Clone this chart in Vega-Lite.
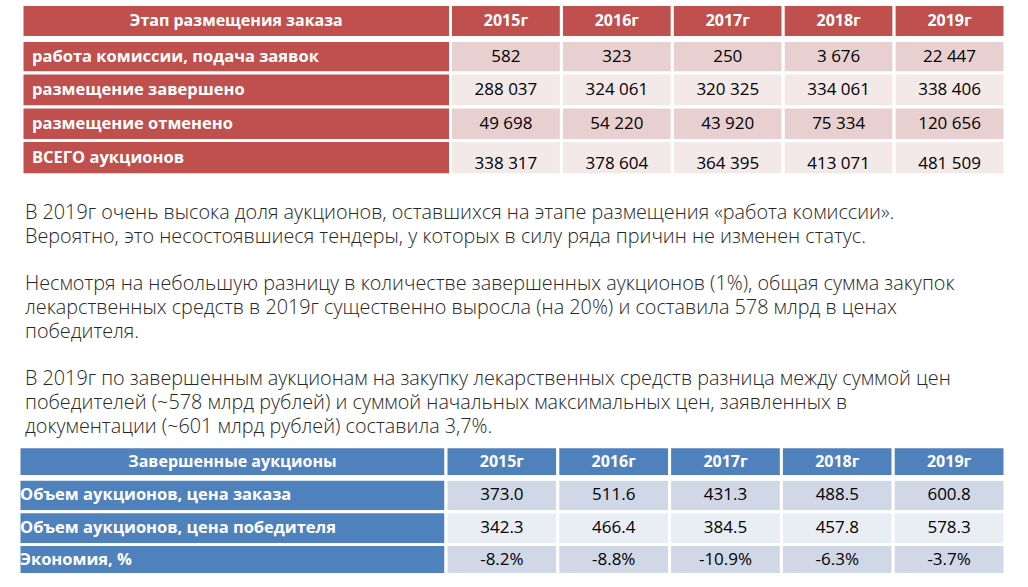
{
  "$schema": "https://vega.github.io/schema/vega-lite/v6.json",
  "width": 1028,
  "height": 587,
  "padding": 0,
  "autosize": "none",
  "background": "white",
  "config": {"view": {"stroke": null}},
  "datasets": {
    "tA": [
      {"r": 0, "c": 0, "txt": "Этап размещения заказа"},
      {"r": 0, "c": 1, "txt": "2015г"},
      {"r": 0, "c": 2, "txt": "2016г"},
      {"r": 0, "c": 3, "txt": "2017г"},
      {"r": 0, "c": 4, "txt": "2018г"},
      {"r": 0, "c": 5, "txt": "2019г"},
      {"r": 1, "c": 0, "txt": "работа комиссии, подача заявок"},
      {"r": 1, "c": 1, "txt": "582"},
      {"r": 1, "c": 2, "txt": "323"},
      {"r": 1, "c": 3, "txt": "250"},
      {"r": 1, "c": 4, "txt": "3 676"},
      {"r": 1, "c": 5, "txt": "22 447"},
      {"r": 2, "c": 0, "txt": "размещение завершено"},
      {"r": 2, "c": 1, "txt": "288 037"},
      {"r": 2, "c": 2, "txt": "324 061"},
      {"r": 2, "c": 3, "txt": "320 325"},
      {"r": 2, "c": 4, "txt": "334 061"},
      {"r": 2, "c": 5, "txt": "338 406"},
      {"r": 3, "c": 0, "txt": "размещение отменено"},
      {"r": 3, "c": 1, "txt": "49 698"},
      {"r": 3, "c": 2, "txt": "54 220"},
      {"r": 3, "c": 3, "txt": "43 920"},
      {"r": 3, "c": 4, "txt": "75 334"},
      {"r": 3, "c": 5, "txt": "120 656"},
      {"r": 4, "c": 0, "txt": "ВСЕГО аукционов"},
      {"r": 4, "c": 1, "txt": "338 317"},
      {"r": 4, "c": 2, "txt": "378 604"},
      {"r": 4, "c": 3, "txt": "364 395"},
      {"r": 4, "c": 4, "txt": "413 071"},
      {"r": 4, "c": 5, "txt": "481 509"}
    ],
    "tB": [
      {"r": 20, "c": 0, "txt": "Завершенные аукционы"},
      {"r": 20, "c": 1, "txt": "2015г"},
      {"r": 20, "c": 2, "txt": "2016г"},
      {"r": 20, "c": 3, "txt": "2017г"},
      {"r": 20, "c": 4, "txt": "2018г"},
      {"r": 20, "c": 5, "txt": "2019г"},
      {"r": 21, "c": 0, "txt": "Объем аукционов, цена заказа"},
      {"r": 21, "c": 1, "txt": "373.0"},
      {"r": 21, "c": 2, "txt": "511.6"},
      {"r": 21, "c": 3, "txt": "431.3"},
      {"r": 21, "c": 4, "txt": "488.5"},
      {"r": 21, "c": 5, "txt": "600.8"},
      {"r": 22, "c": 0, "txt": "Объем аукционов, цена победителя"},
      {"r": 22, "c": 1, "txt": "342.3"},
      {"r": 22, "c": 2, "txt": "466.4"},
      {"r": 22, "c": 3, "txt": "384.5"},
      {"r": 22, "c": 4, "txt": "457.8"},
      {"r": 22, "c": 5, "txt": "578.3"},
      {"r": 23, "c": 0, "txt": "Экономия, %"},
      {"r": 23, "c": 1, "txt": "-8.2%"},
      {"r": 23, "c": 2, "txt": "-8.8%"},
      {"r": 23, "c": 3, "txt": "-10.9%"},
      {"r": 23, "c": 4, "txt": "-6.3%"},
      {"r": 23, "c": 5, "txt": "-3.7%"}
    ],
    "para": [
      {"r": 10, "c": 0, "txt": "В 2019г очень высока доля аукционов, оставшихся на этапе размещения «работа комиссии»."},
      {"r": 11, "c": 0, "txt": "Вероятно, это несостоявшиеся тендеры, у которых в силу ряда причин не изменен статус."},
      {"r": 13, "c": 0, "txt": "Несмотря на небольшую разницу в количестве завершенных аукционов (1%), общая сумма закупок"},
      {"r": 14, "c": 0, "txt": "лекарственных средств в 2019г существенно выросла (на 20%) и составила 578 млрд в ценах"},
      {"r": 15, "c": 0, "txt": "победителя."},
      {"r": 17, "c": 0, "txt": "В 2019г по завершенным аукционам на закупку лекарственных средств разница между суммой цен"},
      {"r": 18, "c": 0, "txt": "победителей (~578 млрд рублей) и суммой начальных максимальных цен, заявленных в"},
      {"r": 19, "c": 0, "txt": "документации (~601 млрд рублей) составила 3,7%."}
    ]
  },
  "layer": [
    {
      "data": {"name": "tA"},
      "transform": [
        {"calculate": "datum.c + 1", "as": "c2"},
        {"calculate": "datum.r + (datum.r == 0 ? 0.9 : 1)", "as": "r2"},
        {"calculate": "datum.c + 0.5", "as": "cm"},
        {"calculate": "datum.r == 0 ? 0.45 : datum.r + 0.5", "as": "rm"}
      ],
      "encoding": {
        "x": {"field": "c", "type": "quantitative", "axis": null,
              "scale": {"domain": [0, 1, 6], "range": [22, 450.5, 1005], "nice": false, "zero": false}}
      },
      "layer": [
        {
          "mark": {"type": "rect", "stroke": "white", "strokeWidth": 3},
          "encoding": {
            "x2": {"field": "c2"},
            "y": {"field": "r", "type": "quantitative", "axis": null,
                  "scale": {"domain": [0, 0.9, 1, 2, 3, 4, 5, 10, 19, 20, 20.9, 21, 22, 23, 24],
                            "range": [4.5, 37.5, 40.5, 73, 107, 140.5, 174.8, 213, 427, 446.8, 476.5, 479.2, 511.7, 544.5, 574.5],
                            "nice": false, "zero": false}},
            "y2": {"field": "r2"},
            "color": {
              "condition": [
                {"test": "datum.c == 0 || datum.r == 0", "value": "#C0504D"},
                {"test": "datum.r % 2 == 1", "value": "#E8D0D0"}
              ],
              "value": "#F3E9E9"
            }
          }
        },
        {
          "transform": [{"filter": "datum.r == 0"}],
          "mark": {"type": "text", "align": "center", "baseline": "middle", "font": "Open Sans", "fontWeight": "bold", "fontSize": 16, "color": "white"},
          "encoding": {
            "x": {"field": "cm", "type": "quantitative"},
            "y": {"field": "rm", "type": "quantitative"},
            "text": {"field": "txt"}
          }
        },
        {
          "transform": [{"filter": "datum.r > 0 && datum.c == 0"}],
          "mark": {"type": "text", "align": "left", "baseline": "middle", "dx": 10, "font": "Open Sans", "fontWeight": "bold", "fontSize": 16.5, "color": "white"},
          "encoding": {
            "x": {"field": "c", "type": "quantitative"},
            "y": {"field": "rm", "type": "quantitative"},
            "text": {"field": "txt"}
          }
        },
        {
          "transform": [{"filter": "datum.r > 0 && datum.r < 4 && datum.c > 0"}],
          "mark": {"type": "text", "align": "center", "baseline": "middle", "font": "Open Sans", "fontSize": 17, "color": "black"},
          "encoding": {
            "x": {"field": "cm", "type": "quantitative"},
            "y": {"field": "rm", "type": "quantitative"},
            "text": {"field": "txt"}
          }
        },
        {
          "transform": [{"filter": "datum.r == 4 && datum.c > 0"}],
          "mark": {"type": "text", "align": "center", "baseline": "middle", "dy": 6, "font": "Open Sans", "fontSize": 17, "color": "black"},
          "encoding": {
            "x": {"field": "cm", "type": "quantitative"},
            "y": {"field": "rm", "type": "quantitative"},
            "text": {"field": "txt"}
          }
        }
      ]
    },
    {
      "data": {"name": "para"},
      "mark": {"type": "text", "align": "left", "baseline": "middle", "dx": 3, "font": "Open Sans", "fontWeight": 300, "fontSize": 19.8, "color": "#262626"},
      "encoding": {
        "x": {"field": "c", "type": "quantitative", "axis": null,
              "scale": {"domain": [0, 1, 6], "range": [22, 450.5, 1005], "nice": false, "zero": false}},
        "y": {"field": "r", "type": "quantitative"},
        "text": {"field": "txt"}
      }
    },
    {
      "data": {"name": "tB"},
      "transform": [
        {"calculate": "datum.c + 1", "as": "c2"},
        {"calculate": "datum.r + (datum.r == 20 ? 0.9 : 1)", "as": "r2"},
        {"calculate": "datum.c + 0.5", "as": "cm"},
        {"calculate": "datum.r == 20 ? 20.45 : datum.r + 0.5", "as": "rm"}
      ],
      "encoding": {
        "x": {"field": "c", "type": "quantitative", "axis": null,
              "scale": {"domain": [0, 1, 6], "range": [19, 446, 1005], "nice": false, "zero": false}}
      },
      "layer": [
        {
          "mark": {"type": "rect", "stroke": "white", "strokeWidth": 3},
          "encoding": {
            "x2": {"field": "c2"},
            "y": {"field": "r", "type": "quantitative"},
            "y2": {"field": "r2"},
            "color": {
              "condition": [
                {"test": "datum.c == 0 || datum.r == 20", "value": "#4F81BD"},
                {"test": "datum.r % 2 == 1", "value": "#D0D8E8"}
              ],
              "value": "#E9EDF4"
            }
          }
        },
        {
          "transform": [{"filter": "datum.r == 20"}],
          "mark": {"type": "text", "align": "center", "baseline": "middle", "font": "Open Sans", "fontWeight": "bold", "fontSize": 16, "color": "white"},
          "encoding": {
            "x": {"field": "cm", "type": "quantitative"},
            "y": {"field": "rm", "type": "quantitative"},
            "text": {"field": "txt"}
          }
        },
        {
          "transform": [{"filter": "datum.r > 20 && datum.c == 0"}],
          "mark": {"type": "text", "align": "left", "baseline": "middle", "dx": 1, "font": "Open Sans", "fontWeight": "bold", "fontSize": 16.5, "color": "white"},
          "encoding": {
            "x": {"field": "c", "type": "quantitative"},
            "y": {"field": "rm", "type": "quantitative"},
            "text": {"field": "txt"}
          }
        },
        {
          "transform": [{"filter": "datum.r > 20 && datum.c > 0"}],
          "mark": {"type": "text", "align": "center", "baseline": "middle", "font": "Open Sans", "fontSize": 17, "color": "black"},
          "encoding": {
            "x": {"field": "cm", "type": "quantitative"},
            "y": {"field": "rm", "type": "quantitative"},
            "text": {"field": "txt"}
          }
        }
      ]
    }
  ],
  "resolve": {"scale": {"x": "independent"}}
}
